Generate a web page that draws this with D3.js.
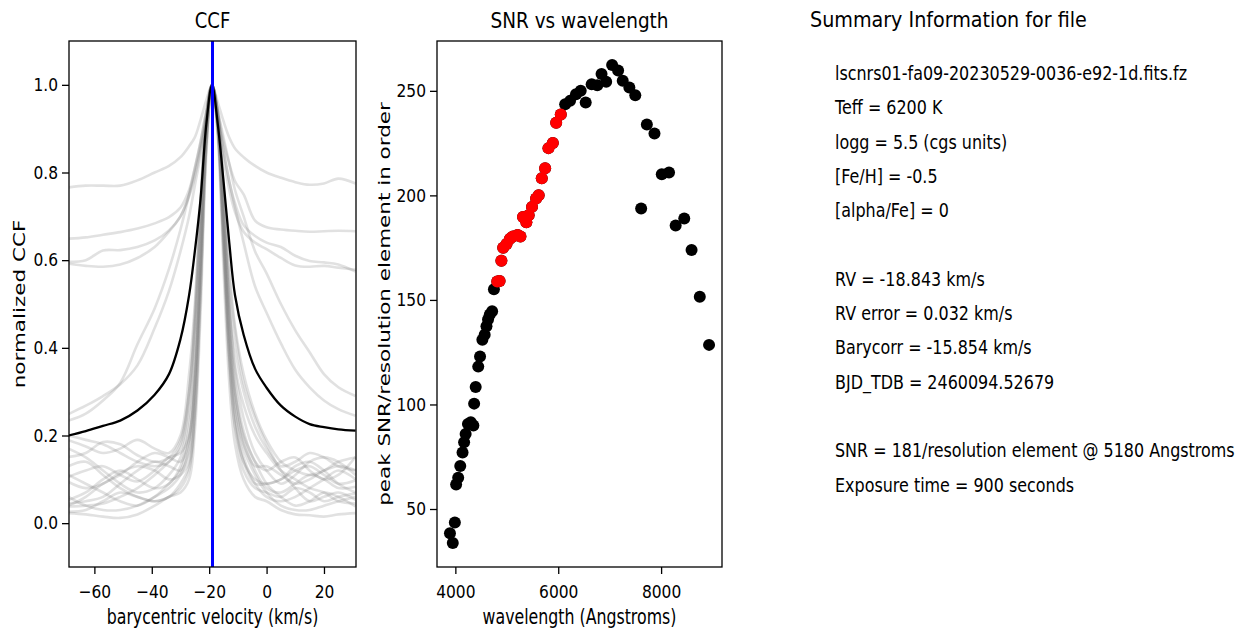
<!DOCTYPE html>
<html lang="en">
<head>
<meta charset="UTF-8">
<title>CCF and SNR summary</title>
<script src="https://d3js.org/d3.v7.min.js"></script>
<style>
  body { margin: 0; background: #fff; }
  svg text { font-family: "DejaVu Sans", sans-serif; fill: #000; }
</style>
</head>
<body>
<svg id="fig" width="1246" height="635"></svg>
<script>
// ---------------- data ----------------
const rv = -18.843;

// velocity grid (km/s) on which every CCF below is sampled
const ccfVel = [-69, -63, -57, -51, -45, -39, -34, -30, -27, -25, -23, -21, -19, -17, -15, -13, -11, -8, -4, 0, 5, 10, 15, 20, 25, 31];

// mean CCF (black)
const ccfMean = [0.200, 0.210, 0.222, 0.234, 0.257, 0.293, 0.340, 0.420, 0.520, 0.620, 0.740, 0.910, 1.0, 0.910, 0.780, 0.640, 0.520, 0.430, 0.352, 0.309, 0.268, 0.243, 0.226, 0.219, 0.214, 0.211];

// per-order CCFs (grey)
const ccfA = [0.766, 0.770, 0.770, 0.770, 0.782, 0.800, 0.815, 0.835, 0.860, 0.880, 0.920, 0.965, 1.0, 0.960, 0.917, 0.880, 0.855, 0.835, 0.815, 0.800, 0.788, 0.778, 0.772, 0.775, 0.786, 0.775];
const ccfB = [0.649, 0.652, 0.658, 0.664, 0.672, 0.684, 0.698, 0.720, 0.760, 0.810, 0.870, 0.940, 1.0, 0.940, 0.870, 0.820, 0.780, 0.750, 0.690, 0.675, 0.670, 0.667, 0.665, 0.666, 0.667, 0.666];
const ccfC = [0.596, 0.600, 0.622, 0.623, 0.630, 0.645, 0.668, 0.700, 0.750, 0.800, 0.860, 0.930, 1.0, 0.930, 0.850, 0.780, 0.730, 0.680, 0.655, 0.640, 0.630, 0.610, 0.598, 0.595, 0.590, 0.574];
const ccfD = [0.592, 0.587, 0.585, 0.590, 0.605, 0.630, 0.665, 0.700, 0.745, 0.790, 0.850, 0.920, 1.0, 0.920, 0.830, 0.760, 0.710, 0.665, 0.640, 0.625, 0.605, 0.588, 0.585, 0.587, 0.583, 0.578];
const ccfE = [0.249, 0.268, 0.290, 0.317, 0.360, 0.445, 0.530, 0.620, 0.700, 0.770, 0.840, 0.930, 1.0, 0.930, 0.850, 0.780, 0.720, 0.640, 0.540, 0.480, 0.410, 0.350, 0.310, 0.280, 0.260, 0.245];
const ccfF = [0.234, 0.250, 0.280, 0.320, 0.408, 0.490, 0.580, 0.670, 0.750, 0.810, 0.870, 0.940, 1.0, 0.940, 0.880, 0.820, 0.760, 0.700, 0.620, 0.570, 0.500, 0.440, 0.390, 0.340, 0.310, 0.290];
const ccfL1 = [0.189, 0.175, 0.160, 0.170, 0.190, 0.170, 0.160, 0.200, 0.340, 0.500, 0.740, 0.930, 1.0, 0.930, 0.740, 0.520, 0.400, 0.300, 0.220, 0.170, 0.130, 0.140, 0.160, 0.150, 0.130, 0.120];
const ccfL2 = [0.151, 0.160, 0.185, 0.180, 0.155, 0.140, 0.150, 0.190, 0.300, 0.460, 0.720, 0.920, 1.0, 0.930, 0.720, 0.480, 0.320, 0.210, 0.140, 0.120, 0.140, 0.150, 0.120, 0.100, 0.110, 0.151];
const ccfL3 = [0.106, 0.120, 0.130, 0.110, 0.095, 0.120, 0.150, 0.160, 0.200, 0.330, 0.600, 0.880, 1.0, 0.910, 0.670, 0.420, 0.270, 0.180, 0.130, 0.130, 0.110, 0.090, 0.100, 0.120, 0.130, 0.121];
const ccfL4 = [0.094, 0.080, 0.090, 0.115, 0.130, 0.120, 0.100, 0.110, 0.140, 0.260, 0.540, 0.860, 1.0, 0.890, 0.620, 0.360, 0.220, 0.140, 0.100, 0.090, 0.100, 0.120, 0.130, 0.110, 0.090, 0.098];
const ccfL5 = [0.053, 0.070, 0.100, 0.120, 0.100, 0.080, 0.090, 0.130, 0.220, 0.380, 0.650, 0.900, 1.0, 0.920, 0.700, 0.460, 0.300, 0.190, 0.120, 0.080, 0.070, 0.090, 0.110, 0.100, 0.080, 0.083];
const ccfL6 = [0.045, 0.050, 0.060, 0.090, 0.120, 0.140, 0.130, 0.120, 0.160, 0.300, 0.580, 0.880, 1.0, 0.900, 0.640, 0.380, 0.220, 0.120, 0.080, 0.070, 0.060, 0.080, 0.070, 0.050, 0.060, 0.068];
const ccfL7 = [0.038, 0.040, 0.045, 0.060, 0.080, 0.110, 0.140, 0.170, 0.280, 0.450, 0.700, 0.910, 1.0, 0.940, 0.760, 0.560, 0.440, 0.320, 0.240, 0.180, 0.120, 0.080, 0.050, 0.060, 0.070, 0.053];
const ccfL8 = [0.026, 0.030, 0.050, 0.070, 0.060, 0.050, 0.060, 0.080, 0.120, 0.240, 0.520, 0.860, 1.0, 0.910, 0.680, 0.440, 0.300, 0.200, 0.140, 0.090, 0.060, 0.040, 0.050, 0.070, 0.060, 0.038];
const ccfL9 = [0.023, 0.020, 0.015, 0.012, 0.020, 0.040, 0.060, 0.070, 0.100, 0.210, 0.480, 0.840, 1.0, 0.880, 0.580, 0.320, 0.180, 0.100, 0.060, 0.050, 0.030, 0.020, 0.018, 0.015, 0.020, 0.023];
const ccfL10 = [0.110, 0.090, 0.070, 0.050, 0.040, 0.060, 0.090, 0.120, 0.190, 0.340, 0.620, 0.890, 1.0, 0.900, 0.650, 0.400, 0.250, 0.150, 0.090, 0.060, 0.050, 0.060, 0.080, 0.100, 0.120, 0.100];
const ccfL11 = [0.170, 0.150, 0.120, 0.090, 0.070, 0.080, 0.110, 0.150, 0.250, 0.420, 0.680, 0.910, 1.0, 0.930, 0.730, 0.500, 0.350, 0.240, 0.160, 0.120, 0.090, 0.110, 0.140, 0.150, 0.140, 0.110];
const ccfL12 = [0.040, 0.060, 0.090, 0.110, 0.140, 0.160, 0.150, 0.140, 0.190, 0.320, 0.600, 0.880, 1.0, 0.920, 0.710, 0.500, 0.360, 0.270, 0.200, 0.160, 0.120, 0.100, 0.080, 0.070, 0.050, 0.045];
const ccfL13 = [0.130, 0.140, 0.110, 0.080, 0.060, 0.050, 0.060, 0.090, 0.130, 0.250, 0.530, 0.860, 1.0, 0.900, 0.630, 0.380, 0.240, 0.140, 0.090, 0.090, 0.100, 0.130, 0.140, 0.120, 0.090, 0.070];
const ccfL14 = [0.060, 0.040, 0.030, 0.030, 0.040, 0.060, 0.080, 0.110, 0.170, 0.310, 0.590, 0.880, 1.0, 0.910, 0.670, 0.430, 0.280, 0.170, 0.110, 0.070, 0.040, 0.030, 0.030, 0.040, 0.050, 0.060];
const ccfL15 = [0.200, 0.190, 0.180, 0.160, 0.140, 0.130, 0.140, 0.180, 0.300, 0.480, 0.730, 0.930, 1.0, 0.940, 0.770, 0.580, 0.450, 0.340, 0.250, 0.190, 0.140, 0.120, 0.110, 0.120, 0.140, 0.150];
const ccfOrders = [ccfA, ccfB, ccfC, ccfD, ccfE, ccfF, ccfL1, ccfL2, ccfL3, ccfL4, ccfL5, ccfL6, ccfL7, ccfL8, ccfL9, ccfL10, ccfL11, ccfL12, ccfL13, ccfL14, ccfL15];

// peak SNR per order; used = 1 for the orders drawn in red
const orderWave = [3895, 3990, 3950, 4015, 4055, 4095, 4140, 4170, 4200, 4245, 4300, 4350, 4365, 4395, 4445, 4480, 4525, 4570, 4605, 4635, 4670, 4715, 4750,
  4815, 4860, 4895, 4930, 4995, 5060, 5120, 5210, 5265, 5315, 5380, 5425, 5490, 5570, 5620, 5680, 5745, 5810, 5895, 5960, 6050,
  6135, 6230, 6345, 6437, 6534, 6650, 6759, 6842, 6932, 7048, 7164, 7254, 7383, 7498, 7612, 7723, 7871, 8013, 8154, 8283, 8450, 8592, 8752, 8932];
const orderSnr = [38.4, 43.5, 33.7, 61.7, 64.9, 70.6, 77.0, 81.9, 85.9, 90.7, 91.5, 89.9, 100.4, 108.4, 118.1, 122.9, 131.0, 133.3, 137.4, 140.6, 143.0, 144.6, 155.1,
  158.8, 159.1, 168.7, 174.9, 176.8, 179.2, 180.3, 181.1, 180.3, 189.7, 187.2, 190.5, 194.5, 198.5, 200.1, 208.2, 213.0, 222.6, 225.1, 234.7, 238.7,
  243.6, 245.2, 248.4, 250.0, 244.4, 253.2, 252.7, 258.0, 254.3, 262.4, 259.7, 254.8, 251.6, 247.9, 193.7, 233.9, 229.6, 210.1, 210.9, 185.6, 188.9, 173.9, 151.5, 128.5];
const orderUsed = [0, 0, 0, 0, 0, 0, 0, 0, 0, 0, 0, 0, 0, 0, 0, 0, 0, 0, 0, 0, 0, 0, 0,
  1, 1, 1, 1, 1, 1, 1, 1, 1, 1, 1, 1, 1, 1, 1, 1, 1, 1, 1, 1, 1,
  0, 0, 0, 0, 0, 0, 0, 0, 0, 0, 0, 0, 0, 0, 0, 0, 0, 0, 0, 0, 0, 0, 0, 0];

// tick values
const ccfXTicks = [-60, -40, -20, 0, 20];
const ccfYTicks = [0.0, 0.2, 0.4, 0.6, 0.8, 1.0];
const snrXTicks = [4000, 6000, 8000];
const snrYTicks = [50, 100, 150, 200, 250];

// summary panel text
const summaryTitle = "Summary Information for file";
const summaryLines = [
  "lscnrs01-fa09-20230529-0036-e92-1d.fits.fz",
  "Teff = 6200 K",
  "logg = 5.5 (cgs units)",
  "[Fe/H] = -0.5",
  "[alpha/Fe] = 0",
  "",
  "RV = -18.843 km/s",
  "RV error = 0.032 km/s",
  "Barycorr = -15.854 km/s",
  "BJD_TDB = 2460094.52679",
  "",
  "SNR = 181/resolution element @ 5180 Angstroms",
  "Exposure time = 900 seconds"
];

// ---------------- layout ----------------
const plotTop = 41, plotBottom = 567;
const ccfBox = { left: 69, right: 356 };
const snrBox = { left: 437, right: 722 };

const svg = d3.select("#fig");
svg.append("rect").attr("width", 1246).attr("height", 635).attr("fill", "#fff");

// the picture is horizontally squeezed: narrow every glyph run around its anchor
const squeeze = (sel, k) => sel.each(function () {
  const t = d3.select(this);
  const x = +t.attr("x") || 0, y = +t.attr("y") || 0;
  t.attr("x", 0).attr("y", 0).attr("transform", `translate(${x},${y}) scale(${k},1)`);
});

const styleAxis = (g) => {
  g.select(".domain").remove();
  g.selectAll(".tick line").attr("stroke", "#000").attr("stroke-width", 1.3);
  g.selectAll(".tick text").attr("font-size", 18).attr("font-family", "DejaVu Sans").attr("fill", "#000");
  squeeze(g.selectAll(".tick text"), 0.86);
};

const defs = svg.append("defs");
const clip = (id, box) => defs.append("clipPath").attr("id", id)
  .append("rect").attr("x", box.left).attr("y", plotTop)
  .attr("width", box.right - box.left).attr("height", plotBottom - plotTop);
clip("clip-ccf", ccfBox);
clip("clip-snr", snrBox);

// ---------------- CCF panel ----------------
const xc = d3.scaleLinear().domain([rv - 50, rv + 50]).range([ccfBox.left, ccfBox.right]);
const yc = d3.scaleLinear().domain([-0.1, 1.1]).range([plotBottom, plotTop]);

const ccfLine = d3.line()
  .x((d, i) => xc(ccfVel[i]))
  .y(d => yc(d))
  .curve(d3.curveCatmullRom.alpha(0.5));

const ccfG = svg.append("g").attr("clip-path", "url(#clip-ccf)");
ccfG.selectAll("path.order")
  .data(ccfOrders)
  .join("path")
  .attr("class", "order")
  .attr("d", ccfLine)
  .attr("fill", "none")
  .attr("stroke", "#808080")
  .attr("stroke-opacity", 0.24)
  .attr("stroke-width", 2.6);

ccfG.append("path")
  .attr("d", ccfLine(ccfMean))
  .attr("fill", "none")
  .attr("stroke", "#000")
  .attr("stroke-width", 2.3);

ccfG.append("line")
  .attr("x1", xc(rv)).attr("x2", xc(rv))
  .attr("y1", plotTop).attr("y2", plotBottom)
  .attr("stroke", "#0000ff")
  .attr("stroke-width", 3);

svg.append("g")
  .attr("transform", `translate(0,${plotBottom})`)
  .call(d3.axisBottom(xc).tickValues(ccfXTicks).tickFormat(d3.format("d")).tickSize(7).tickPadding(11))
  .call(styleAxis);

svg.append("g")
  .attr("transform", `translate(${ccfBox.left},0)`)
  .call(d3.axisLeft(yc).tickValues(ccfYTicks).tickFormat(d3.format(".1f")).tickSize(7).tickPadding(4))
  .call(styleAxis);

// ---------------- SNR panel ----------------
const [wMin, wMax] = d3.extent(orderWave);
const [sMin, sMax] = d3.extent(orderSnr);
const wPad = (wMax - wMin) * 0.05, sPad = (sMax - sMin) * 0.05;
const xs = d3.scaleLinear().domain([wMin - wPad, wMax + wPad]).range([snrBox.left, snrBox.right]);
const ys = d3.scaleLinear().domain([sMin - sPad, sMax + sPad]).range([plotBottom, plotTop]);

const orders = orderWave.map((w, i) => ({ w: w, snr: orderSnr[i], used: orderUsed[i] }));
const snrG = svg.append("g").attr("clip-path", "url(#clip-snr)");
snrG.selectAll("circle.all")
  .data(orders)
  .join("circle")
  .attr("class", "all")
  .attr("cx", d => xs(d.w))
  .attr("cy", d => ys(d.snr))
  .attr("r", 6)
  .attr("fill", "#000");
snrG.selectAll("circle.used")
  .data(orders.filter(d => d.used))
  .join("circle")
  .attr("class", "used")
  .attr("cx", d => xs(d.w))
  .attr("cy", d => ys(d.snr))
  .attr("r", 6)
  .attr("fill", "#ff0000");

svg.append("g")
  .attr("transform", `translate(0,${plotBottom})`)
  .call(d3.axisBottom(xs).tickValues(snrXTicks).tickFormat(d3.format("d")).tickSize(7).tickPadding(11))
  .call(styleAxis);

svg.append("g")
  .attr("transform", `translate(${snrBox.left},0)`)
  .call(d3.axisLeft(ys).tickValues(snrYTicks).tickFormat(d3.format("d")).tickSize(7).tickPadding(4))
  .call(styleAxis);

// frames
[ccfBox, snrBox].forEach(b => {
  svg.append("rect")
    .attr("x", b.left).attr("y", plotTop)
    .attr("width", b.right - b.left).attr("height", plotBottom - plotTop)
    .attr("fill", "none").attr("stroke", "#000").attr("stroke-width", 1.3);
});

// titles and axis labels
const addText = (txt, x, y, size, anchor, k) => {
  const t = svg.append("text").attr("x", x).attr("y", y)
    .attr("font-size", size).attr("text-anchor", anchor).text(txt);
  squeeze(t, k);
  return t;
};
addText("CCF", (ccfBox.left + ccfBox.right) / 2, 28, 20.5, "middle", 0.88);
addText("SNR vs wavelength", (snrBox.left + snrBox.right) / 2, 28, 20.5, "middle", 0.9);
addText("barycentric velocity (km/s)", (ccfBox.left + ccfBox.right) / 2, 624, 20.5, "middle", 0.77);
addText("wavelength (Angstroms)", (snrBox.left + snrBox.right) / 2, 624, 20.5, "middle", 0.77);

const addVLabel = (txt, x) => svg.append("text")
  .attr("transform", `translate(${x},${(plotTop + plotBottom) / 2}) scale(0.77,1) rotate(-90)`)
  .attr("font-size", 21.5).attr("text-anchor", "middle").text(txt);
addVLabel("normalized CCF", 25);
addVLabel("peak SNR/resolution element in order", 390);

// summary panel
addText(summaryTitle, 810, 27, 21.5, "start", 0.89);
summaryLines.forEach((s, i) => {
  if (s) addText(s, 835, 80 + i * 34.3, 19, "start", 0.84);
});
</script>
</body>
</html>
